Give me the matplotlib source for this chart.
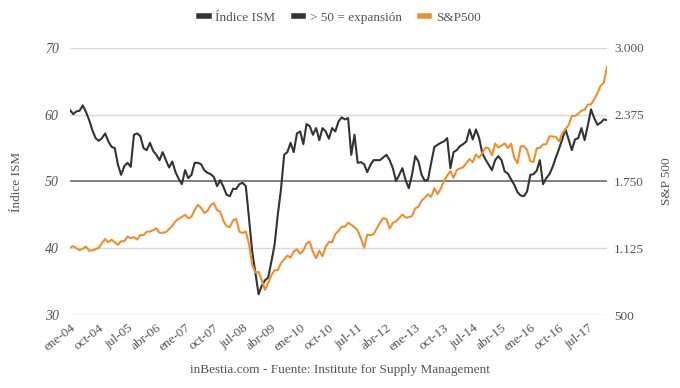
import matplotlib
matplotlib.use('Agg')
import matplotlib.pyplot as plt
from matplotlib.lines import Line2D
from matplotlib.ticker import FuncFormatter

# --- Data: monthly, ene-2004 .. ene-2018 ---
ism = [
    60.7, 60.1, 60.5, 60.6, 61.4, 60.4, 59.2, 57.7, 56.5, 56.1, 56.5, 57.2,  # 2004
    56.0, 55.2, 55.0, 52.5, 51.0, 52.3, 52.8, 52.2, 57.0, 57.2, 56.8, 55.0,  # 2005
    54.7, 55.8, 54.6, 54.0, 53.2, 54.4, 53.2, 52.1, 53.0, 51.4, 50.4, 49.6,  # 2006
    51.7, 50.5, 51.0, 52.8, 52.8, 52.6, 51.7, 51.3, 51.1, 50.7, 49.3, 50.2,  # 2007
    49.2, 48.0, 47.8, 48.9, 48.9, 49.6, 49.8, 49.3, 44.5, 39.5, 36.3, 33.1,  # 2008
    34.4, 35.2, 35.6, 38.0, 40.5, 45.0, 48.8, 54.0, 54.4, 55.8, 54.4, 57.2,  # 2009
    57.5, 55.6, 58.6, 58.3, 57.0, 58.0, 56.2, 58.0, 57.5, 56.4, 58.0, 57.5,  # 2010
    59.0, 59.6, 59.3, 59.5, 54.0, 57.0, 52.8, 52.9, 52.6, 51.4, 52.5, 53.2,  # 2011
    53.2, 53.2, 53.6, 54.0, 53.2, 52.0, 50.1, 51.0, 52.0, 50.2, 49.0, 51.0,  # 2012
    53.8, 53.0, 51.0, 50.1, 50.3, 52.8, 55.2, 55.5, 55.8, 56.0, 56.5, 52.0,  # 2013
    54.4, 54.7, 55.3, 55.6, 56.0, 57.8, 56.3, 57.8, 56.5, 54.2, 53.3, 52.5,  # 2014
    51.7, 53.2, 53.8, 53.2, 51.5, 51.2, 50.3, 49.5, 48.4, 47.9, 47.8, 48.5,  # 2015
    51.0, 51.1, 51.6, 53.2, 49.6, 50.5, 51.1, 52.2, 53.6, 54.9, 56.3, 57.8,  # 2016
    56.3, 54.7, 56.3, 56.5, 58.0, 56.2, 58.4, 60.8, 59.5, 58.5, 58.8, 59.3,  # 2017
    59.2,                                                                    # 2018
]

sp500 = [
    1131, 1145, 1126, 1107, 1121, 1141, 1102, 1104, 1115, 1130, 1174, 1212,  # 2004
    1181, 1204, 1181, 1157, 1192, 1191, 1234, 1220, 1229, 1207, 1249, 1248,  # 2005
    1280, 1281, 1295, 1311, 1270, 1270, 1277, 1304, 1336, 1378, 1401, 1418,  # 2006
    1438, 1407, 1421, 1482, 1531, 1503, 1455, 1474, 1527, 1549, 1481, 1468,  # 2007
    1379, 1331, 1323, 1386, 1400, 1280, 1267, 1283, 1166, 969, 896, 903,     # 2008
    826, 735, 798, 873, 919, 919, 987, 1021, 1057, 1036, 1096, 1115,         # 2009
    1074, 1104, 1169, 1187, 1089, 1031, 1102, 1049, 1141, 1183, 1181, 1258,  # 2010
    1286, 1327, 1326, 1364, 1345, 1321, 1292, 1219, 1131, 1253, 1247, 1258,  # 2011
    1312, 1366, 1408, 1398, 1310, 1362, 1379, 1407, 1441, 1412, 1416, 1426,  # 2012
    1498, 1515, 1569, 1598, 1631, 1606, 1686, 1633, 1682, 1757, 1806, 1848,  # 2013
    1783, 1859, 1872, 1884, 1924, 1960, 1931, 2003, 1972, 2018, 2068, 2059,  # 2014
    1995, 2105, 2068, 2086, 2107, 2063, 2104, 1972, 1920, 2079, 2080, 2044,  # 2015
    1940, 1932, 2060, 2065, 2097, 2099, 2174, 2171, 2168, 2126, 2199, 2239,  # 2016
    2279, 2364, 2363, 2384, 2412, 2423, 2470, 2472, 2519, 2575, 2648, 2674,  # 2017
    2824,                                                                    # 2018
]

months = ['ene', 'feb', 'mar', 'abr', 'may', 'jun', 'jul', 'ago', 'sep', 'oct', 'nov', 'dic']
dates = [f"{months[i % 12]}-{(4 + i // 12):02d}" for i in range(len(ism))]
expansion = [50] * len(ism)

left_ticks = [30, 40, 50, 60, 70]
right_ticks = [500, 1125, 1750, 2375, 3000]

FONT = 'Liberation Serif'
TXT = '#555555'
DARK = '#333333'
ORANGE = '#ee8f2f'
FS = 9.5

plt.rcParams['font.family'] = [FONT, 'DejaVu Serif']

fig = plt.figure(figsize=(6.8, 3.88), dpi=100)
ax = fig.add_axes([70 / 680, 1 - 315 / 388, 537 / 680, 267 / 388])
ax2 = ax.twinx()

x = list(range(len(ism)))

# gridlines
for t in left_ticks:
    if t != 50:
        ax.axhline(t, color='#d9d9d9', linewidth=1, zorder=0)
ax.plot(x, expansion, color='#777777', linewidth=1.3, zorder=1)
ax.plot(x, ism, color=DARK, linewidth=1.5, zorder=3)
ax2.plot(x, sp500, color=ORANGE, linewidth=1.5, zorder=2)

ax.set_xlim(0, len(ism) - 1)
ax.set_ylim(30, 70)
ax2.set_ylim(500, 3000)

ax.set_yticks(left_ticks)
ax.set_yticklabels([str(t) for t in left_ticks], fontstyle='italic', fontsize=FS + 0.5, color=TXT)
ax2.set_yticks(right_ticks)
ax2.yaxis.set_major_formatter(FuncFormatter(lambda v, p: f"{int(v):,}".replace(',', '.')))
for lab in ax2.get_yticklabels():
    lab.set_fontsize(FS)
    lab.set_color(TXT)

xt = list(range(0, len(ism), 9))
ax.set_xticks(xt)
ax.set_xticklabels([dates[i] for i in xt], rotation=38, ha='right', rotation_mode='anchor',
                   fontsize=FS, color=TXT)

for a in (ax, ax2):
    for s in a.spines.values():
        s.set_visible(False)
    a.tick_params(length=0)
ax.tick_params(axis='y', pad=8)
ax.tick_params(axis='x', pad=5)
ax2.tick_params(axis='y', pad=5)

ax.set_ylabel('Índice ISM', fontsize=FS, color=TXT, labelpad=16)
ax2.set_ylabel('S&P 500', fontsize=FS, color=TXT, labelpad=12)

handles = [
    Line2D([0], [0], color=DARK, linewidth=4),
    Line2D([0], [0], color=DARK, linewidth=4),
    Line2D([0], [0], color=ORANGE, linewidth=4),
]
fig.legend(handles, ['Índice ISM', '> 50 = expansión', 'S&P500'], loc='center',
           bbox_to_anchor=(0.5, 1 - 18 / 388), ncol=3, frameon=False, fontsize=FS,
           handlelength=0.7, handletextpad=0.5, columnspacing=1.4, labelcolor=TXT)

fig.text(0.5, 1 - 370 / 388, 'inBestia.com - Fuente: Institute for Supply Management',
         ha='center', va='center', fontsize=FS, color=TXT)

fig.savefig('out.png', dpi=100)
